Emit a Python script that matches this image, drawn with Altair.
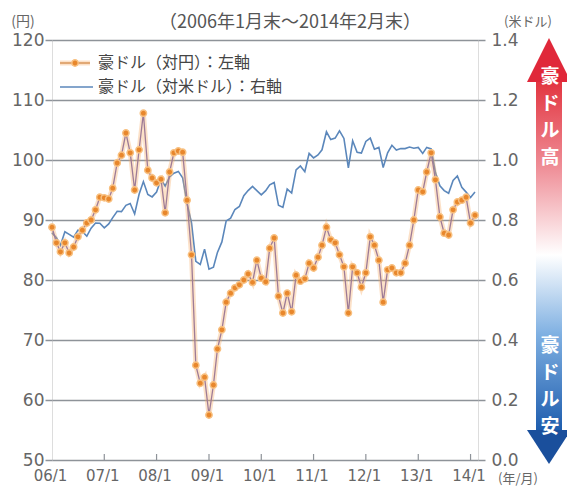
import altair as alt
import pandas as pd

# ---- data (month-end values, Jan 2006 - Feb 2014) ----
YEN = [
    88.8, 86.2, 84.7, 86.2, 84.5, 85.5, 87.2, 88.3, 89.5, 90.0, 91.7, 93.8,
    93.7, 93.5, 95.3, 99.5, 100.8, 104.5, 101.2, 95.0, 101.7, 107.8, 98.3, 97.0,
    96.2, 96.8, 91.2, 98.0, 101.2, 101.5, 101.3, 93.3, 84.2, 65.8, 62.8, 63.8,
    57.5, 62.5, 68.5, 71.7, 76.3, 77.8, 78.7, 79.2, 80.0, 81.0, 79.6, 83.3,
    80.3, 79.7, 85.3, 87.0, 77.3, 74.5, 77.8, 74.7, 80.8, 79.8, 80.2, 82.8,
    82.0, 83.8, 85.8, 88.8, 86.7, 86.2, 84.2, 82.2, 74.5, 82.2, 81.2, 78.8,
    81.2, 87.2, 85.8, 83.3, 76.3, 81.7, 82.0, 81.2, 81.2, 82.8, 85.8, 90.0,
    95.0, 94.7, 98.0, 101.2, 96.7, 90.5, 87.8, 87.5, 91.7, 93.0, 93.3, 93.8,
    89.5, 90.8,
]
USD = [
    0.757, 0.741, 0.716, 0.761, 0.752, 0.743, 0.766, 0.762, 0.746, 0.773, 0.790, 0.789,
    0.774, 0.787, 0.808, 0.829, 0.828, 0.849, 0.855, 0.820, 0.886, 0.928, 0.885, 0.877,
    0.893, 0.936, 0.913, 0.944, 0.956, 0.962, 0.941, 0.855, 0.790, 0.662, 0.652, 0.703,
    0.636, 0.643, 0.692, 0.727, 0.797, 0.806, 0.835, 0.845, 0.881, 0.898, 0.912, 0.898,
    0.884, 0.898, 0.917, 0.925, 0.849, 0.842, 0.903, 0.890, 0.967, 0.980, 0.961, 1.022,
    1.007, 1.017, 1.034, 1.094, 1.068, 1.073, 1.097, 1.072, 0.974, 1.064, 1.026, 1.023,
    1.062, 1.073, 1.036, 1.042, 0.975, 1.024, 1.049, 1.033, 1.038, 1.038, 1.043, 1.039,
    1.042, 1.022, 1.042, 1.037, 0.958, 0.914, 0.898, 0.889, 0.932, 0.947, 0.909, 0.893,
    0.875, 0.893,
]
YEARS = [2006, 2007, 2008, 2009, 2010, 2011, 2012, 2013, 2014]
YEN_TICKS = [50, 60, 70, 80, 90, 100, 110, 120]
USD_TICKS = [0.0, 0.2, 0.4, 0.6, 0.8, 1.0, 1.2, 1.4]

TITLE = "（2006年1月末～2014年2月末）"
LEG_YEN = "豪ドル（対円）：左軸"
LEG_USD = "豪ドル（対米ドル）：右軸"

dates = pd.date_range("2006-01-01", periods=len(YEN), freq="MS")
df = pd.DataFrame({"date": dates.strftime("%Y-%m-%dT00:00:00"), "yen": YEN, "usd": USD})
ticks_df = pd.DataFrame({"date": [f"{y}-01-01T00:00:00" for y in YEARS[1:]]})
one = pd.DataFrame({"k": [0]})

JP = "Noto Sans CJK JP"
NUM = "DejaVu Sans"
GRID = "#8e9399"
LAB = "#666666"

xscale = alt.Scale(domain=[alt.DateTime(year=2006, month=1, date=1),
                           alt.DateTime(year=2014, month=2, date=22)])
xaxis = alt.Axis(values=[alt.DateTime(year=y, month=1, date=1) for y in YEARS],
                 format="%y/%-m", ticks=False, domain=False, grid=False, title=None,
                 labelFont=NUM, labelFontSize=15, labelColor=LAB, labelPadding=8,
                 labelFlush=False, labelOffset=-2)
x_enc = alt.X("date:T", scale=xscale, axis=xaxis)

yscale = alt.Scale(domain=[50, 120], nice=False, zero=False)
yaxis = alt.Axis(values=YEN_TICKS, grid=True, gridColor=GRID, gridWidth=1.5,
                 tickSize=7, tickColor=GRID, tickWidth=1.5, domain=False, title=None,
                 labelFont=NUM, labelFontSize=17, labelColor=LAB, labelPadding=1)
y_yen = alt.Y("yen:Q", scale=yscale, axis=yaxis)

uscale = alt.Scale(domain=[0, 1.4], nice=False, zero=False)
uaxis = alt.Axis(values=USD_TICKS, orient="right", format=".1f", grid=False,
                 tickSize=7, tickColor=GRID, tickWidth=1.5, domain=False, title=None,
                 labelFont=NUM, labelFontSize=17, labelColor=LAB, labelPadding=6)

base = alt.Chart(df)

year_ticks = alt.Chart(ticks_df).mark_rule(color=GRID, strokeWidth=1.2).encode(
    x=x_enc, y=alt.value(414), y2=alt.value(420))

usd_line = base.mark_line(color="#5b87bb", strokeWidth=1.6).encode(
    x=x_enc, y=alt.Y("usd:Q", scale=uscale, axis=uaxis))

glow = base.mark_line(color="#f5a860", strokeWidth=5, opacity=0.35).encode(x=x_enc, y=y_yen)
thin = base.mark_line(color="#9e7b96", strokeWidth=1.3).encode(x=x_enc, y=y_yen)
pts = base.mark_circle(size=40, color="#e8872c", opacity=1, stroke="#f8c080",
                       strokeWidth=1.5).encode(x=x_enc, y=y_yen)
yen_layer = alt.layer(glow, thin, pts)

dec = alt.Chart(one)

# legend
leg = [
    dec.mark_rule(color="#f5a860", strokeWidth=5, opacity=0.35).encode(
        x=alt.value(8), x2=alt.value(38), y=alt.value(23)),
    dec.mark_rule(color="#d9955a", strokeWidth=1.5).encode(
        x=alt.value(8), x2=alt.value(38), y=alt.value(23)),
    dec.mark_circle(size=40, color="#e8872c", opacity=1, stroke="#f8c080", strokeWidth=1.5).encode(
        x=alt.value(23), y=alt.value(23)),
    dec.mark_text(text=LEG_YEN, font=JP, fontSize=16, color="#444444", align="left",
                  baseline="middle").encode(x=alt.value(46), y=alt.value(23)),
    dec.mark_rule(color="#5b87bb", strokeWidth=1.6).encode(
        x=alt.value(8), x2=alt.value(41), y=alt.value(47)),
    dec.mark_text(text=LEG_USD, font=JP, fontSize=16, color="#444444", align="left",
                  baseline="middle").encode(x=alt.value(46), y=alt.value(47)),
]

# titles / unit labels
texts = [
    dec.mark_text(text=TITLE, font=JP, fontSize=18, color="#555555", align="center",
                  baseline="middle").encode(x=alt.value(238), y=alt.value(-17)),
    dec.mark_text(text="(円)", font=JP, fontSize=14, color="#666666", align="center",
                  baseline="middle").encode(x=alt.value(-29), y=alt.value(-18)),
    dec.mark_text(text="(米ドル)", font=JP, fontSize=13, color="#666666", align="center",
                  baseline="middle").encode(x=alt.value(476), y=alt.value(-18)),
    dec.mark_text(text="(年/月)", font=JP, fontSize=13, color="#666666", align="left",
                  baseline="middle").encode(x=alt.value(446), y=alt.value(439)),
]

# arrows
red_grad = alt.Gradient(gradient="linear", x1=0, x2=0, y1=0, y2=1, stops=[
    alt.GradientStop(color="#e2343f", offset=0),
    alt.GradientStop(color="#ef8f98", offset=0.5),
    alt.GradientStop(color="#ffffff", offset=1)])
blue_grad = alt.Gradient(gradient="linear", x1=0, x2=0, y1=0, y2=1, stops=[
    alt.GradientStop(color="#ffffff", offset=0),
    alt.GradientStop(color="#7fb0e2", offset=0.45),
    alt.GradientStop(color="#1d5cad", offset=1)])

arrows = [
    dec.mark_rect(fill=red_grad).encode(
        x=alt.value(484), x2=alt.value(510), y=alt.value(41), y2=alt.value(215)),
    dec.mark_point(shape="M0,-1L1,1L-1,1Z", size=1936, filled=True, fill="#e0283a",
                   opacity=1, strokeWidth=0).encode(x=alt.value(497), y=alt.value(20)),
    dec.mark_rect(fill=blue_grad).encode(
        x=alt.value(484), x2=alt.value(510), y=alt.value(215), y2=alt.value(391)),
    dec.mark_point(shape="M-1,-0.77L1,-0.77L0,0.77Z", size=1936, filled=True, fill="#1a4f9c",
                   opacity=1, strokeWidth=0).encode(x=alt.value(497), y=alt.value(407)),
    dec.mark_text(text="豪\nド\nル\n高", lineBreak="\n", lineHeight=27, font=JP, fontSize=19,
                  fontWeight="bold", color="#ffffff", align="center", baseline="top").encode(
        x=alt.value(498), y=alt.value(28)),
    dec.mark_text(text="豪\nド\nル\n安", lineBreak="\n", lineHeight=27, font=JP, fontSize=19,
                  fontWeight="bold", color="#ffffff", align="center", baseline="top").encode(
        x=alt.value(498), y=alt.value(297)),
]

chart = alt.layer(year_ticks, usd_line, yen_layer, *leg, *texts, *arrows).resolve_scale(
    y="independent"
).properties(
    width=426, height=420,
    padding={"left": 44, "top": 32, "right": 89, "bottom": 28},
    autosize=alt.AutoSizeParams(type="none"),
).configure_view(fill="#e8f0fa", stroke="transparent").configure(background="white")

chart.save("out.html", embed_options={"renderer": "svg", "actions": False})
